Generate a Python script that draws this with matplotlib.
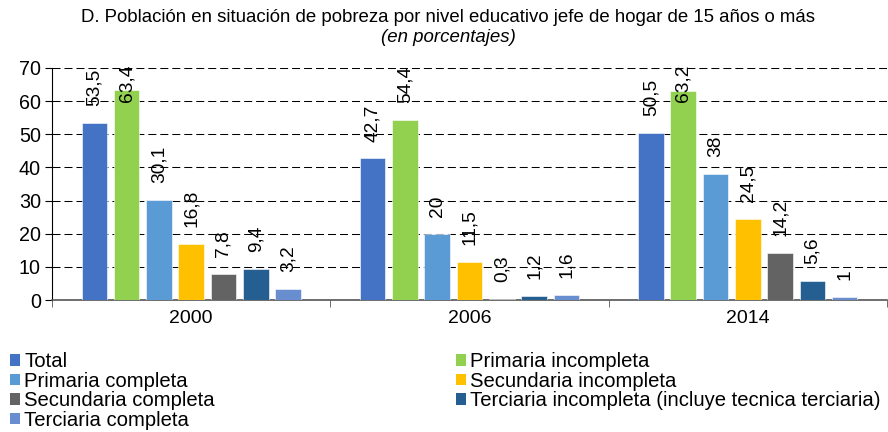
import matplotlib
matplotlib.use("Agg")
import matplotlib.pyplot as plt
from matplotlib.patches import Patch
import numpy as np

plt.rcParams['font.family'] = ['Liberation Sans', 'DejaVu Sans']

years = ["2000", "2006", "2014"]
series_names = [
    "Total",
    "Primaria incompleta",
    "Primaria completa",
    "Secundaria incompleta",
    "Secundaria completa",
    "Terciaria incompleta (incluye tecnica terciaria)",
    "Terciaria completa",
]
total = [53.5, 42.7, 50.5]
primaria_incompleta = [63.4, 54.4, 63.2]
primaria_completa = [30.1, 20, 38]
secundaria_incompleta = [16.8, 11.5, 24.5]
secundaria_completa = [7.8, 0.3, 14.2]
terciaria_incompleta = [9.4, 1.2, 5.6]
terciaria_completa = [3.2, 1.6, 1]
series_values = [total, primaria_incompleta, primaria_completa, secundaria_incompleta,
                 secundaria_completa, terciaria_incompleta, terciaria_completa]
colors = ["#4472C4", "#92D050", "#5B9BD5", "#FFC000", "#636363", "#255E91", "#698ED0"]
yticks = [0, 10, 20, 30, 40, 50, 60, 70]

title = "D. Población en situación de pobreza por nivel educativo jefe de hogar de 15 años o más"
subtitle = "(en porcentajes)"

W, H, DPI = 888, 432, 100
fig = plt.figure(figsize=(W / DPI, H / DPI), dpi=DPI)
ax = fig.add_axes([52 / W, 1 - 300 / H, (887 - 52) / W, (300 - 68) / H])

x = np.arange(len(years))
pitch = 0.116
width = 0.092
n = len(series_values)
LBL_OFF = 12.2
texts = []
for j, (name, vals, col) in enumerate(zip(series_names, series_values, colors)):
    xs = x + (j - (n - 1) / 2) * pitch
    ax.bar(xs, vals, width=width, color=col, edgecolor="white", linewidth=0.4, zorder=3)
    for xi, v in zip(xs, vals):
        lab = str(int(v)) if float(v).is_integer() else f"{v}".replace(".", ",")
        t = ax.annotate(lab, (xi, v), xytext=(0, LBL_OFF), textcoords="offset points",
                        rotation=90, ha="center", va="bottom", fontsize=13.8,
                        color="black", zorder=4, annotation_clip=False)
        texts.append(t)

ax.set_xlim(-0.5, 2.5)
ax.set_ylim(0, 70)
ax.set_yticks(yticks)
ax.set_yticklabels([str(v) for v in yticks], fontsize=14.2)
ax.set_xticks(x)
ax.set_xticklabels(years, fontsize=14)
ax.set_xticks([-0.5, 0.5, 1.5, 2.5], minor=True)
ax.tick_params(axis="x", which="major", length=0, pad=7)
ax.tick_params(axis="x", which="minor", length=5, direction="out", color="#555555")
ax.tick_params(axis="y", length=5, direction="out", pad=3)

for s in ["top", "right"]:
    ax.spines[s].set_visible(False)
ax.spines["left"].set_color("black")
ax.spines["bottom"].set_color("#555555")
ax.spines["bottom"].set_linewidth(1.2)
ax.yaxis.grid(True, color="black", linewidth=0.75, linestyle=(0, (7.7, 3.8)), zorder=1)
ax.set_axisbelow(True)

fig.text(448 / W, 1 - 17 / H, title, ha="center", va="center", fontsize=13.4)
fig.text(448 / W, 1 - 38 / H, subtitle, ha="center", va="center", fontsize=13.4, style="italic")

# legends (two columns, row-wise order)
handles = [Patch(facecolor=c, edgecolor="none") for c in colors]
col1 = [0, 2, 4, 6]
col2 = [1, 3, 5]
common = dict(frameon=False, fontsize=14.6, handlelength=0.5, handleheight=0.5,
              handletextpad=0.2, labelspacing=0.03, borderpad=0, borderaxespad=0)
fig.legend([handles[i] for i in col1], [series_names[i] for i in col1],
           loc="upper left", bbox_to_anchor=(10 / W, 1 - 352 / H), **common)
fig.legend([handles[i] for i in col2], [series_names[i] for i in col2],
           loc="upper left", bbox_to_anchor=(456 / W, 1 - 352 / H), **common)

# keep value labels inside the top of the plot area
fig.canvas.draw()
renderer = fig.canvas.get_renderer()
top_limit = ax.transAxes.transform((0, 1))[1] + 3 * DPI / 100
for t in texts:
    bb = t.get_window_extent(renderer)
    if bb.y1 > top_limit:
        shift = (bb.y1 - top_limit) * 72 / DPI
        t.xyann = (0, LBL_OFF - shift)

fig.savefig("out.png", dpi=DPI)
